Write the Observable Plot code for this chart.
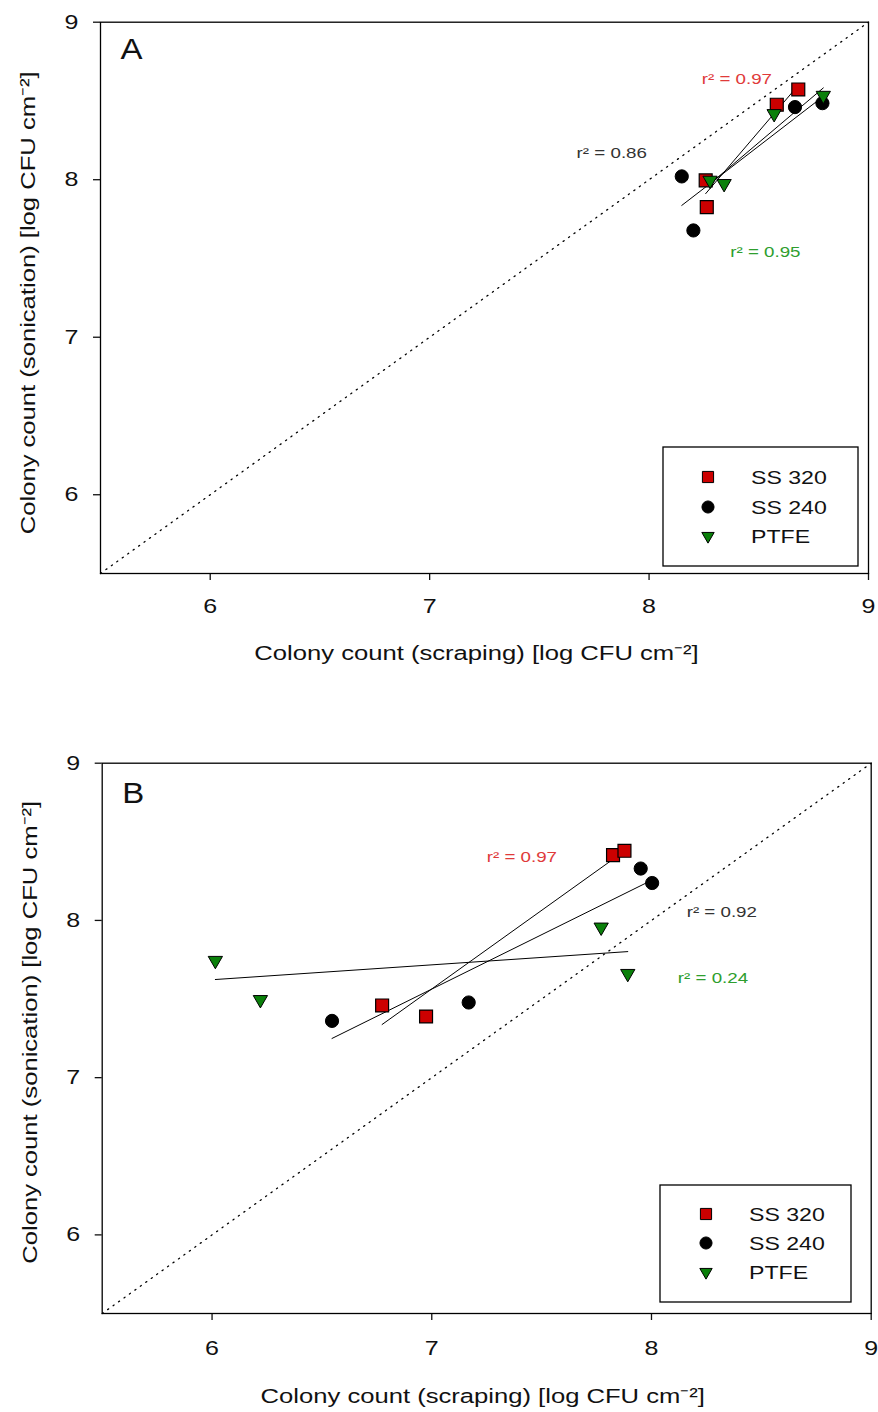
<!DOCTYPE html>
<html><head><meta charset="utf-8">
<script src="https://cdn.jsdelivr.net/npm/d3@7"></script>
<script src="https://cdn.jsdelivr.net/npm/@observablehq/plot@0.6"></script>
<style>
body{margin:0;background:#fff;}
#root{position:relative;width:878px;height:1412px;font-family:'Liberation Sans',Arial,sans-serif;background:#fff;}
.panel{position:absolute;left:0;}
</style></head><body><div id="root"></div>
<script>
// ---- shared categories / ticks ----
const seriesNames = ["SS 320", "SS 240", "PTFE"];
const seriesFill = ["#cc0000", "#000000", "#0a800a"];
const labelColors = ["#e03a3a", "#333333", "#2e9e2e"];
const axisTicks = [6, 7, 8, 9];
const axisDomain = [5.5, 9];
const identityLine = [5.5, 9];
const xTitle = "Colony count (scraping) [log CFU cm⁻²]";
const yTitle = "Colony count (sonication) [log CFU cm⁻²]";

// ---- Panel A values ----
const A_SS320_scraping   = [8.680, 8.582, 8.258, 8.263];
const A_SS320_sonication = [8.573, 8.476, 7.996, 7.826];
const A_SS240_scraping   = [8.665, 8.790, 8.149, 8.202];
const A_SS240_sonication = [8.461, 8.486, 8.021, 7.678];
const A_PTFE_scraping    = [8.794, 8.570, 8.278, 8.342];
const A_PTFE_sonication  = [8.535, 8.419, 7.996, 7.975];
const A_r2_text = ["r² = 0.97", "r² = 0.86", "r² = 0.95"];
const A_r2_x = [8.40, 7.83, 8.53];
const A_r2_y = [8.64, 8.17, 7.54];

// ---- Panel B values ----
const B_SS320_scraping   = [7.825, 7.877, 6.774, 6.974];
const B_SS320_sonication = [8.415, 8.443, 7.459, 7.389];
const B_SS240_scraping   = [7.951, 8.003, 6.546, 7.168];
const B_SS240_sonication = [8.330, 8.238, 7.361, 7.478];
const B_PTFE_scraping    = [6.015, 6.220, 7.771, 7.892];
const B_PTFE_sonication  = [7.745, 7.496, 7.957, 7.662];
const B_r2_text = ["r² = 0.97", "r² = 0.92", "r² = 0.24"];
const B_r2_x = [7.41, 8.32, 8.28];
const B_r2_y = [8.40, 8.05, 7.63];

// downward triangle symbol
const downTriangle = {
  draw(ctx, size) {
    const y = Math.sqrt(size / (3 * Math.sqrt(3)));
    ctx.moveTo(0, 2 * y);
    ctx.lineTo(-Math.sqrt(3) * y, -y);
    ctx.lineTo(Math.sqrt(3) * y, -y);
    ctx.closePath();
  }
};

const STRETCH = 1.25;
function stretchTexts(svg, s, letter) {
  svg.querySelectorAll("text").forEach(t => {
    const b = t.getBBox();
    const anchor = getComputedStyle(t).textAnchor;
    const k = t.textContent === letter ? 1.1 : s;
    const cx = anchor === "middle" ? b.x + b.width / 2 : anchor === "end" ? b.x + b.width : b.x;
    const tr = t.getAttribute("transform") || "";
    t.setAttribute("transform", `${tr} translate(${cx},0) scale(${k},1) translate(${-cx},0)`);
  });
}

function makePanel(cfg) {
  const rows = [];
  cfg.scraping.forEach((xs, k) => xs.forEach((x, i) =>
    rows.push({series: seriesNames[k], scraping: x, sonication: cfg.sonication[k][i]})));
  const labels = cfg.r2text.map((t, i) => ({text: t, x: cfg.r2x[i], y: cfg.r2y[i], color: labelColors[i]}));
  const bySeries = name => rows.filter(d => d.series === name);

  const svg = Plot.plot({
    width: 878, height: cfg.height,
    marginTop: cfg.mt, marginLeft: cfg.ml, marginRight: cfg.mr, marginBottom: cfg.mb,
    style: {fontFamily: "'Liberation Sans', Arial, sans-serif", background: "white", overflow: "visible", color: "#111"},
    x: {domain: axisDomain},
    y: {domain: axisDomain},
    color: {type: "identity"},
    marks: [
      Plot.axisX({ticks: axisTicks, tickFormat: d => String(d), tickSize: 7, tickPadding: cfg.xpad, fontSize: 20, label: null, strokeWidth: 1.3}),
      Plot.axisY({ticks: axisTicks, tickFormat: d => String(d), tickSize: 7, tickPadding: 15, fontSize: 20, label: null, strokeWidth: 1.3}),
      Plot.line(identityLine, {x: d => d, y: d => d, stroke: "black", strokeWidth: 1.3, strokeDasharray: "1.2,5.5"}),
      Plot.linearRegressionY(rows, {x: "scraping", y: "sonication", z: "series", stroke: "black", strokeWidth: 1, ci: 0}),
      Plot.dot(bySeries("SS 320"), {x: "scraping", y: "sonication", symbol: "square", r: 7.3, fill: seriesFill[0], stroke: "black", strokeWidth: 1.2}),
      Plot.dot(bySeries("SS 240"), {x: "scraping", y: "sonication", symbol: "circle", r: 6.6, fill: seriesFill[1], stroke: "black", strokeWidth: 1}),
      Plot.dot(bySeries("PTFE"), {x: "scraping", y: "sonication", symbol: downTriangle, r: 5.3, fill: seriesFill[2], stroke: "black", strokeWidth: 1}),
      Plot.text(labels, {x: "x", y: "y", text: "text", fill: "color", fontSize: 15, textAnchor: "middle", lineAnchor: "middle"}),
      Plot.frame({stroke: "black", strokeWidth: 1.3}),
      Plot.text([xTitle], {frameAnchor: "bottom", text: d => d, dx: cfg.xtDx, dy: cfg.xtDy, fontSize: 20.5, lineAnchor: "middle", textAnchor: "middle", fill: "#111"}),
      Plot.text([yTitle], {frameAnchor: "left", text: d => d, dx: -72, dy: cfg.ytDy, rotate: -90, fontSize: 20.5, lineAnchor: "middle", textAnchor: "middle", fill: "#111"}),
      Plot.text([cfg.letter], {frameAnchor: "top-left", text: d => d, dx: 31, dy: cfg.letterDy, fontSize: 30, lineAnchor: "middle", textAnchor: "middle", fill: "#111"})
    ]
  });

  const div = document.createElement("div");
  div.className = "panel";
  div.style.top = cfg.top + "px";
  div.appendChild(svg);
  document.getElementById("root").appendChild(div);
  stretchTexts(svg, STRETCH, cfg.letter);

  // legend box (inside plot, lower right)
  const L = cfg.legend;
  const lg = d3.select(div).append("svg")
    .attr("width", L.w + 4).attr("height", L.h + 4)
    .style("position", "absolute").style("left", (L.left - 2) + "px").style("top", (L.top - 2) + "px")
    .style("font-family", "'Liberation Sans', Arial, sans-serif");
  lg.append("rect").attr("x", 2).attr("y", 2).attr("width", L.w).attr("height", L.h)
    .attr("fill", "white").attr("stroke", "black").attr("stroke-width", 1.3);
  const syms = [d3.symbolSquare, d3.symbolCircle, downTriangle];
  const sizes = [125, 115, 66];
  seriesNames.forEach((name, i) => {
    lg.append("path")
      .attr("d", d3.symbol(syms[i], sizes[i])())
      .attr("transform", `translate(${2 + L.sx},${2 + L.rows[i]})`)
      .attr("fill", seriesFill[i]).attr("stroke", "black").attr("stroke-width", 1);
    const tx = 2 + L.tx;
    lg.append("text").text(name)
      .attr("x", tx).attr("y", 2 + L.rows[i] + 7)
      .attr("font-size", 18.5).attr("fill", "#111")
      .attr("transform", `translate(${tx},0) scale(${STRETCH},1) translate(${-tx},0)`);
  });
}

makePanel({
  letter: "A", top: 0, height: 660, mt: 21.7, mb: 87, ml: 100, mr: 10, xpad: 18.5,
  xtDx: -8, xtDy: 80, ytDy: 5, letterDy: 27,
  scraping: [A_SS320_scraping, A_SS240_scraping, A_PTFE_scraping],
  sonication: [A_SS320_sonication, A_SS240_sonication, A_PTFE_sonication],
  r2text: A_r2_text, r2x: A_r2_x, r2y: A_r2_y,
  legend: {left: 663, top: 447, w: 195, h: 119, sx: 45, tx: 88, rows: [30, 60, 89]}
});

makePanel({
  letter: "B", top: 740, height: 672, mt: 22.7, mb: 99, ml: 101.7, mr: 7.3, xpad: 20,
  xtDx: -4, xtDy: 83, ytDy: -6, letterDy: 30,
  scraping: [B_SS320_scraping, B_SS240_scraping, B_PTFE_scraping],
  sonication: [B_SS320_sonication, B_SS240_sonication, B_PTFE_sonication],
  r2text: B_r2_text, r2x: B_r2_x, r2y: B_r2_y,
  legend: {left: 660, top: 1185 - 740, w: 191, h: 117, sx: 46, tx: 89, rows: [29, 58, 87]}
});
</script></body></html>
